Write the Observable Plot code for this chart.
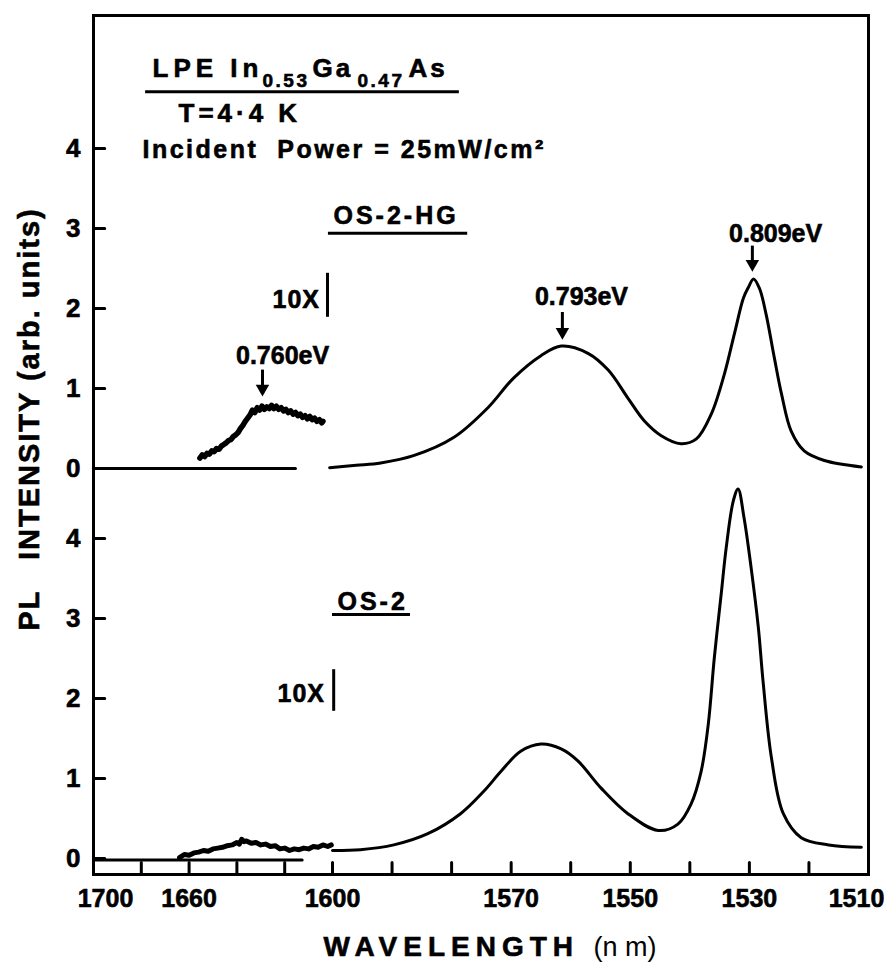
<!DOCTYPE html>
<html><head><meta charset="utf-8">
<script src="https://cdn.jsdelivr.net/npm/d3@7"></script>
<script src="https://cdn.jsdelivr.net/npm/@observablehq/plot@0.6"></script>
<style>
body{margin:0;background:#fff;}
svg text{stroke:#000;stroke-width:0.6px;}
g[aria-description="light"] text{stroke:none;}
g[aria-description="ls1"] text{letter-spacing:1px}
g[aria-description="ls2"] text{letter-spacing:2px}
g[aria-description="ls25"] text{letter-spacing:2.5px}
g[aria-description="ls3"] text{letter-spacing:3px}
g[aria-description="ls4"] text{letter-spacing:4px}
g[aria-description="ls5"] text{letter-spacing:5px}
g[aria-description="ls6"] text{letter-spacing:6px}
</style></head><body><div id="chart"></div>
<script>
// Upper panel offset (OS-2-HG drawn above OS-2 on a shared intensity axis)
const U = 4.875;

// x axis
const xTickValues = [1680, 1660, 1640, 1620, 1600, 1590, 1580, 1570, 1560, 1550, 1540, 1530, 1520];
const xLabelMid = [1660, 1600, 1570, 1550, 1530];
const xLabelLeft = [1700];
const xLabelRight = [1510];
// y axis (0..4 for each panel)
const yTickLower = [0, 1, 2, 3, 4];
const yTickUpper = [0, 1, 2, 3, 4];

// OS-2-HG main spectrum
const hgMainWl = [1601.2, 1596, 1591.9, 1586.4, 1579.6, 1573.9, 1569.6, 1565.0, 1561.6, 1557.1, 1553.7, 1550.4, 1547.7, 1544.8, 1541.5, 1538.9, 1536.4, 1534.2, 1532.5, 1531.0, 1530.2, 1529.3, 1528.3, 1527.2, 1525.8, 1524.6, 1523.0, 1520.8, 1517.4, 1511.2];
const hgMainI  = [0.01, 0.04, 0.07, 0.16, 0.39, 0.76, 1.13, 1.41, 1.53, 1.44, 1.23, 0.88, 0.60, 0.41, 0.31, 0.37, 0.68, 1.18, 1.69, 2.13, 2.26, 2.37, 2.25, 1.93, 1.38, 0.93, 0.47, 0.22, 0.10, 0.02];
// OS-2-HG weak band (10X)
const hgWeakWl = [1655.5, 1654.5, 1653.5, 1652.5, 1651.5, 1650.5, 1649.5, 1648.5, 1647.5, 1646.5, 1645.5, 1644.5, 1643.5, 1642.5, 1641.5, 1640.5, 1639.5, 1638.5, 1637.5, 1636.5, 1635.5, 1634.5, 1633.5, 1632.5, 1631.5, 1630.5, 1629.5, 1628.5, 1627.5, 1626.5, 1625.5, 1624.5, 1623.5, 1622.5, 1621.5, 1620.5, 1619.5, 1618.5, 1617.5, 1616.5, 1615.5, 1614.5, 1613.5, 1612.5, 1611.5, 1610.5, 1609.5, 1608.5, 1607.5, 1606.5, 1605.5, 1604.5, 1604];
const hgWeakI  = [0.13, 0.17, 0.15, 0.19, 0.18, 0.22, 0.21, 0.25, 0.24, 0.28, 0.30, 0.32, 0.35, 0.36, 0.40, 0.42, 0.45, 0.50, 0.54, 0.59, 0.63, 0.67, 0.73, 0.70, 0.76, 0.73, 0.78, 0.74, 0.77, 0.75, 0.79, 0.75, 0.78, 0.74, 0.76, 0.72, 0.74, 0.70, 0.72, 0.68, 0.70, 0.66, 0.68, 0.64, 0.66, 0.62, 0.65, 0.61, 0.63, 0.59, 0.61, 0.57, 0.59];
const hgBaseWl = [1700, 1615.5];
const hgBaseI  = [0, 0];

// OS-2 main spectrum
const osMainWl = [1600.0, 1595.3, 1589.7, 1584.0, 1578.5, 1574.6, 1571.7, 1568.4, 1565.0, 1561.6, 1558.8, 1554.9, 1550.4, 1545.3, 1542.0, 1539.8, 1538.1, 1536.9, 1535.9, 1534.7, 1533.9, 1532.7, 1531.9, 1530.9, 1529.7, 1528.5, 1527.7, 1526.3, 1524.3, 1521.3, 1516.7, 1511.2];
const osMainI  = [0.10, 0.11, 0.17, 0.31, 0.56, 0.84, 1.09, 1.34, 1.43, 1.37, 1.22, 0.88, 0.56, 0.35, 0.43, 0.68, 1.09, 1.68, 2.50, 3.33, 3.88, 4.47, 4.62, 4.26, 3.63, 2.89, 2.21, 1.26, 0.56, 0.26, 0.17, 0.14];
// OS-2 weak band (10X)
const osWeakWl = [1664, 1662, 1660, 1658, 1656, 1654, 1652, 1650, 1648, 1646, 1644, 1642, 1640, 1639, 1638, 1637, 1636, 1634, 1632, 1630, 1628, 1626, 1624, 1622, 1620, 1618, 1616, 1614, 1612, 1610, 1608, 1606, 1604, 1602, 1600.5];
const osWeakI  = [0.01, 0.05, 0.04, 0.07, 0.08, 0.10, 0.09, 0.12, 0.13, 0.14, 0.16, 0.17, 0.20, 0.18, 0.24, 0.21, 0.22, 0.19, 0.20, 0.17, 0.18, 0.15, 0.16, 0.12, 0.13, 0.10, 0.12, 0.11, 0.13, 0.12, 0.15, 0.14, 0.17, 0.15, 0.17];
const osBaseWl = [1700, 1612.7];
const osBaseI  = [-0.02, -0.02];

const toRows = (wl, I, off) => wl.map((w, k) => ({wl: w, y: off + I[k]}));
const hgMain = toRows(hgMainWl, hgMainI, U);
const hgWeak = toRows(hgWeakWl, hgWeakI, U);
const hgBase = toRows(hgBaseWl, hgBaseI, U);
const osMain = toRows(osMainWl, osMainI, 0);
const osWeak = toRows(osWeakWl, osWeakI, 0);
const osBase = toRows(osBaseWl, osBaseI, 0);

const yTicks = [...yTickLower, ...yTickUpper.map(v => v + U)];
const yFmt = d => d >= U - 1e-6 ? String(Math.round(d - U)) : String(d);
// inward tick marks drawn as one zig-zag path running along the frame edge
const Y0 = -0.2, X0 = 1700;
const yTickPath = yTicks.flatMap(v => [{x: X0, y: v}, {x: 1695.3, y: v}, {x: X0, y: v}]);
const xTickPath = xTickValues.flatMap(v => [{x: v, y: Y0}, {x: v, y: -0.05}, {x: v, y: Y0}]);

const FF = "'Liberation Sans', Arial, Helvetica, sans-serif";
const txt = (s, o) => Plot.text([s], {frameAnchor: "top-left", textAnchor: "start", lineAnchor: "bottom", fontSize: 25, ...o});

const arrows = [
  {x: 1629.3, y1: U + 1.23, y2: U + 0.91},
  {x: 1561.4, y1: U + 1.95, y2: U + 1.62},
  {x: 1529.5, y1: U + 2.78, y2: U + 2.47}
];
const peakLabels = [
  {x: 1620.9, y: U + 1.31, t: "0.760eV"},
  {x: 1558.2, y: U + 2.04, t: "0.793eV"},
  {x: 1525.6, y: U + 2.83, t: "0.809eV"}
];
const underlines = [
  {x1: 1678.2, x2: 1578.7, y: U + 4.71},
  {x1: 1601.7, x2: 1577.3, y: U + 2.94},
  {x1: 1600.0, x2: 1586.9, y: 3.05}
];
const bars = [
  {x: 1602.1, y1: U + 2.44, y2: U + 1.89},
  {x: 1599.8, y1: 2.36, y2: 1.84}
];

const chart = Plot.plot({
  width: 889,
  height: 962,
  marginLeft: 93,
  marginRight: 21,
  marginTop: 15,
  marginBottom: 88,
  style: {background: "#fff", color: "#000", fontFamily: FF, fontWeight: "bold", fontSize: "25px"},
  x: {type: "linear", domain: [1700, 1600, 1510], range: [93, 332, 868], axis: null},
  y: {domain: [-0.2, 10.5375], axis: null},
  marks: [
    Plot.frame({stroke: "#000", strokeWidth: 3}),
    // tick labels
    Plot.text(yTicks, {y: d => d, text: yFmt, frameAnchor: "left", dx: -13, textAnchor: "end", lineAnchor: "middle", fontSize: 26}),
    Plot.text(xLabelMid, {x: d => d, text: d => String(d), frameAnchor: "bottom", dy: 15, lineAnchor: "top", fontSize: 25}),
    Plot.text(xLabelLeft, {x: d => d, text: d => String(d), frameAnchor: "bottom", dy: 15, dx: 12, lineAnchor: "top", fontSize: 25}),
    Plot.text(xLabelRight, {x: d => d, text: d => String(d), frameAnchor: "bottom", dy: 15, dx: -12, lineAnchor: "top", fontSize: 25}),
    // spectra
    Plot.line(hgBase, {x: "wl", y: "y", stroke: "#000", strokeWidth: 3}),
    Plot.line(osBase, {x: "wl", y: "y", stroke: "#000", strokeWidth: 3}),
    Plot.line(hgMain, {x: "wl", y: "y", stroke: "#000", strokeWidth: 3, curve: "catmull-rom"}),
    Plot.line(osMain, {x: "wl", y: "y", stroke: "#000", strokeWidth: 3, curve: "catmull-rom"}),
    Plot.line(hgWeak, {x: "wl", y: "y", stroke: "#000", strokeWidth: 5.5, strokeLinejoin: "round"}),
    Plot.line(osWeak, {x: "wl", y: "y", stroke: "#000", strokeWidth: 5, strokeLinejoin: "round"}),
    // annotations: arrows (shaft + filled head)
    Plot.ruleX(arrows, {x: "x", y1: "y1", y2: "y2", stroke: "#000", strokeWidth: 3, insetBottom: 8}),
    Plot.dot(arrows, {x: "x", y: "y2", symbol: "triangle", rotate: 180, r: 5, fill: "#000", stroke: null, dy: -7}),
    Plot.text(peakLabels, {x: "x", y: "y", text: "t", lineAnchor: "bottom", fontSize: 25}),
    Plot.ruleY(underlines, {x1: "x1", x2: "x2", y: "y", stroke: "#000", strokeWidth: 3}),
    Plot.ruleX(bars, {x: "x", y1: "y1", y2: "y2", stroke: "#000", strokeWidth: 3}),
    txt("LPE In", {dx: 59, dy: 61, fontSize: 26, ariaDescription: "ls5"}),
    txt("0.53", {dx: 169, dy: 71, fontSize: 19, ariaDescription: "ls25"}),
    txt("Ga", {dx: 312 - 93, dy: 61, fontSize: 26, ariaDescription: "ls3"}),
    txt("0.47", {dx: 357 - 93, dy: 71, fontSize: 19, ariaDescription: "ls25"}),
    txt("As", {dx: 408 - 93, dy: 61, fontSize: 26, ariaDescription: "ls3"}),
    txt("T=4·4 K", {dx: 85, dy: 106, fontSize: 26, ariaDescription: "ls4"}),
    txt("Incident  Power = 25mW/cm²", {dx: 49, dy: 142, fontSize: 25, ariaDescription: "ls25"}),
    txt("OS-2-HG", {dx: 240, dy: 208, fontSize: 25, ariaDescription: "ls3"}),
    txt("OS-2", {dx: 244, dy: 594, fontSize: 25, ariaDescription: "ls3"}),
    txt("10X", {dx: 272 - 93, dy: 292, fontSize: 25, ariaDescription: "ls1"}),
    txt("10X", {dx: 277 - 93, dy: 686, fontSize: 25, ariaDescription: "ls1"}),
    // axis titles
    Plot.text(["PL   INTENSITY (arb. units)"], {frameAnchor: "left", rotate: -90, dx: -64, dy: -26, textAnchor: "middle", lineAnchor: "middle", fontSize: 29, ariaDescription: "ls2"}),
    Plot.text(["WAVELENGTH"], {frameAnchor: "bottom-left", dx: 230, dy: 81, textAnchor: "start", lineAnchor: "bottom", fontSize: 28, ariaDescription: "ls6"}),
    Plot.text(["(n m)"], {frameAnchor: "bottom-left", dx: 500, dy: 81, textAnchor: "start", lineAnchor: "bottom", fontSize: 27, fontWeight: "normal", ariaDescription: "light"}),
    // inward tick marks, drawn last as paths
    Plot.line(yTickPath, {x: "x", y: "y", stroke: "#000", strokeWidth: 3}),
    Plot.line(xTickPath, {x: "x", y: "y", stroke: "#000", strokeWidth: 3})
  ]
});
document.getElementById("chart").appendChild(chart);
</script></body></html>
